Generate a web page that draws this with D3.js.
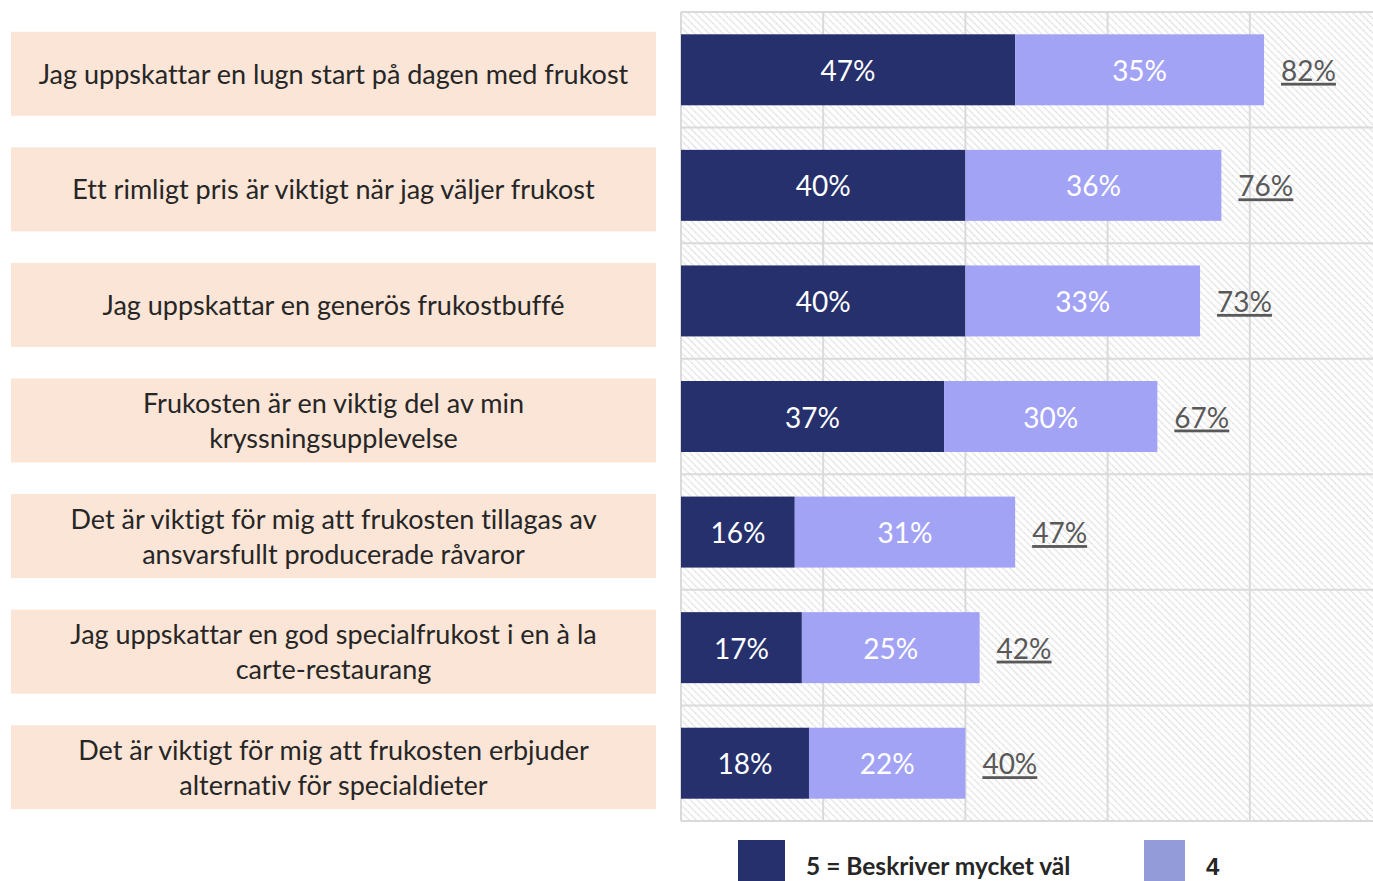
<!DOCTYPE html>
<html>
<head>
  <meta charset="utf-8">
  <style>
    body { margin: 0; background: #fff; }
    svg text { font-family: Lato, "Open Sans", sans-serif; font-variant-ligatures: none; }
  </style>
</head>
<body>
  <script src="https://d3js.org/d3.v7.min.js"></script>
  <svg id="chart" width="1373" height="881"></svg>
  <script>
    // statements (two lines where wrapped in the original)
    var statements = [
      ["Jag uppskattar en lugn start på dagen med frukost"],
      ["Ett rimligt pris är viktigt när jag väljer frukost"],
      ["Jag uppskattar en generös frukostbuffé"],
      ["Frukosten är en viktig del av min", "kryssningsupplevelse"],
      ["Det är viktigt för mig att frukosten tillagas av", "ansvarsfullt producerade råvaror"],
      ["Jag uppskattar en god specialfrukost i en à la", "carte-restaurang"],
      ["Det är viktigt för mig att frukosten erbjuder", "alternativ för specialdieter"]
    ];
    var top5 = [47, 40, 40, 37, 16, 17, 18];
    var top4 = [35, 36, 33, 30, 31, 25, 22];
    var legendLabels = ["5 = Beskriver mycket väl", "4"];

    var svg = d3.select('#chart');
    var plotLeft = 681, plotTop = 12, plotBottom = 821;

    var x = d3.scaleLinear().domain([0, 100]).range([plotLeft, plotLeft + 711]);
    var y = d3.scaleBand().domain(d3.range(statements.length))
      .range([plotTop, plotBottom]).paddingInner(0).paddingOuter(0);

    // hatch pattern
    var defs = svg.append('defs');
    var pat = defs.append('pattern')
      .attr('id', 'hatch')
      .attr('patternUnits', 'userSpaceOnUse')
      .attr('width', 5).attr('height', 5)
      .attr('patternTransform', 'rotate(-45)');
    pat.append('line')
      .attr('x1', 2.5).attr('y1', 0).attr('x2', 2.5).attr('y2', 5)
      .attr('stroke', '#dcdcdc').attr('stroke-width', 1.3)
      .attr('stroke-dasharray', '2,0.5');

    svg.append('rect')
      .attr('x', plotLeft).attr('y', plotTop)
      .attr('width', 711).attr('height', plotBottom - plotTop)
      .attr('fill', 'url(#hatch)');

    // gridlines
    svg.append('g').selectAll('line')
      .data(x.ticks(5))
      .join('line')
      .attr('x1', d => x(d)).attr('x2', d => x(d))
      .attr('y1', plotTop).attr('y2', plotBottom)
      .attr('stroke', '#dadada').attr('stroke-width', 2);
    svg.append('g').selectAll('line')
      .data(d3.range(statements.length + 1))
      .join('line')
      .attr('x1', plotLeft).attr('x2', 1373)
      .attr('y1', d => plotTop + d * y.step()).attr('y2', d => plotTop + d * y.step())
      .attr('stroke', '#dadada').attr('stroke-width', 2);

    // label boxes
    var boxH = 84;
    var lab = svg.append('g').selectAll('g')
      .data(statements)
      .join('g')
      .attr('transform', (d, i) => 'translate(11,' + (y(i) + y.bandwidth() / 2 + 4 - boxH / 2) + ')');
    lab.append('rect')
      .attr('width', 645).attr('height', boxH)
      .attr('fill', '#fbe5d6');
    lab.append('text')
      .attr('x', 322.5)
      .attr('text-anchor', 'middle')
      .attr('fill', '#262626')
      .style('font-size', '27px')
      .selectAll('tspan')
      .data(d => d.map((t, k) => ({t: t, k: k, n: d.length})))
      .join('tspan')
      .attr('x', 322.5)
      .attr('y', d => boxH / 2 + 10 + (d.k - (d.n - 1) / 2) * 35)
      .text(d => d.t);

    // bars
    var barH = 71;
    var rows = svg.append('g').selectAll('g')
      .data(statements.map((s, i) => ({i: i, a: top5[i], b: top4[i]})))
      .join('g')
      .attr('transform', d => 'translate(0,' + (y(d.i) + y.bandwidth() / 2 - barH / 2) + ')');
    rows.append('rect')
      .attr('x', x(0)).attr('width', d => x(d.a) - x(0))
      .attr('height', barH).attr('fill', '#26306c');
    rows.append('rect')
      .attr('x', d => x(d.a)).attr('width', d => x(d.a + d.b) - x(d.a))
      .attr('height', barH).attr('fill', '#a3a3f6');
    rows.append('text')
      .attr('x', d => (x(0) + x(d.a)) / 2)
      .attr('y', barH / 2 + 11)
      .attr('text-anchor', 'middle').attr('fill', '#fff')
      .style('font-size', '28px')
      .text(d => d.a + '%');
    rows.append('text')
      .attr('x', d => (x(d.a) + x(d.a + d.b)) / 2)
      .attr('y', barH / 2 + 11)
      .attr('text-anchor', 'middle').attr('fill', '#fff')
      .style('font-size', '28px')
      .text(d => d.b + '%');
    rows.append('text')
      .attr('x', d => x(d.a + d.b) + 17)
      .attr('y', barH / 2 + 11)
      .attr('fill', '#595959')
      .style('font-size', '28px')
      .style('text-decoration', 'underline')
      .text(d => (d.a + d.b) + '%');

    // legend
    var legColors = ['#26306c', '#939bd9'];
    var legX = [738, 1144];
    var leg = svg.append('g').selectAll('g')
      .data(legendLabels)
      .join('g')
      .attr('transform', (d, i) => 'translate(' + legX[i] + ',840)');
    leg.append('rect')
      .attr('width', (d, i) => i === 0 ? 47 : 41).attr('height', 41)
      .attr('fill', (d, i) => legColors[i]);
    leg.append('text')
      .attr('x', (d, i) => i === 0 ? 68 : 62)
      .attr('y', 35)
      .attr('fill', '#262626')
      .style('font-size', (d, i) => i === 0 ? '24.5px' : '24px')
      .style('font-weight', 'bold')
      .style('font-family', (d, i) => i === 0 ? null : 'Liberation Sans, Arial, sans-serif')
      .text(d => d);
  </script>
</body>
</html>
